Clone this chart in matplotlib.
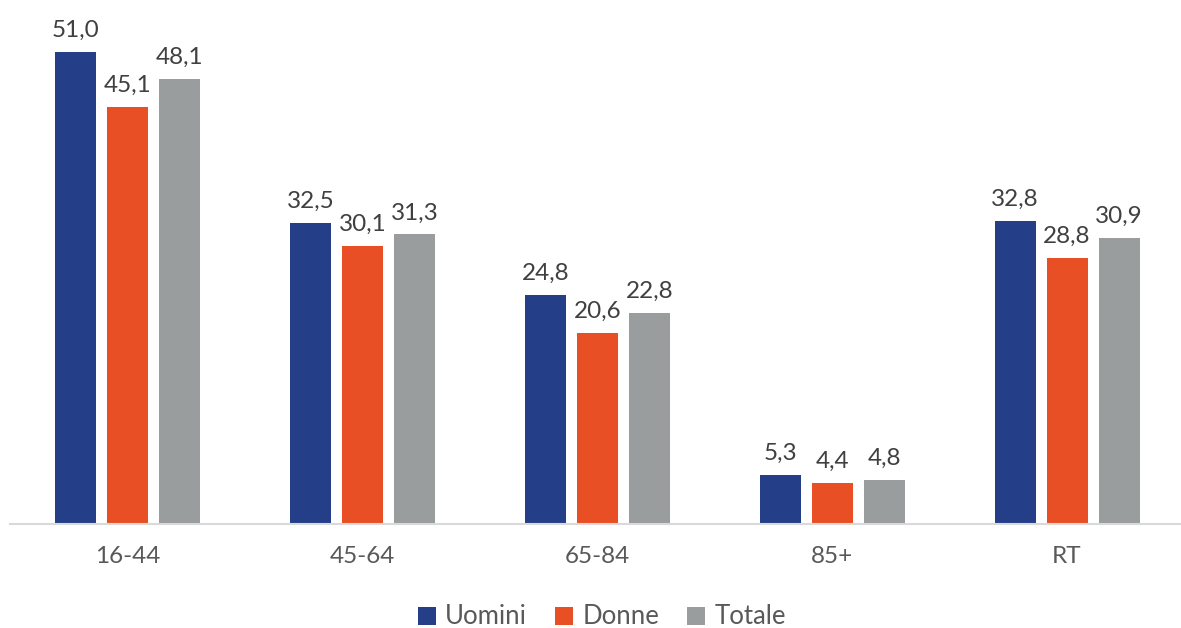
import matplotlib
matplotlib.use("Agg")
import matplotlib.pyplot as plt
import numpy as np

# Dati
categories = ["16-44", "45-64", "65-84", "85+", "RT"]
uomini = [51.0, 32.5, 24.8, 5.3, 32.8]
donne = [45.1, 30.1, 20.6, 4.4, 28.8]
totale = [48.1, 31.3, 22.8, 4.8, 30.9]
series_names = ["Uomini", "Donne", "Totale"]
colors = ["#243F87", "#E94F25", "#9A9D9E"]

plt.rcParams['font.family'] = ['Lato', 'DejaVu Sans']

fig = plt.figure(figsize=(11.81, 6.28), dpi=100)
W, H = 1181, 628
ax = fig.add_axes([10 / W, 104 / H, 1171 / W, 518 / H])

x = np.arange(len(categories))
width = 0.1745
step = 0.2214

for i, (vals, name, col) in enumerate(zip([uomini, donne, totale], series_names, colors)):
    pos = x + (i - 1) * step
    bars = ax.bar(pos, vals, width, color=col, label=name)
    for b, v in zip(bars, vals):
        ax.annotate(f"{v:.1f}".replace(".", ","),
                    (b.get_x() + b.get_width() / 2, b.get_height()),
                    xytext=(0, 8), textcoords="offset points",
                    ha="center", va="bottom", fontsize=17.5, color="#404040")

ax.set_xlim(-0.5, -0.5 + 1171 / 234.9)
ax.set_ylim(0, 56)
ax.set_xticks(x)
ax.set_xticklabels(categories, fontsize=17.5, color="#595959")
ax.tick_params(axis="x", length=0, pad=16)
ax.set_yticks([])
for s in ["top", "right", "left"]:
    ax.spines[s].set_visible(False)
ax.spines["bottom"].set_color("#D9D9D9")
ax.spines["bottom"].set_linewidth(1.5)

leg = fig.legend(loc="center", bbox_to_anchor=(602 / W, 1 - 617 / H), ncol=3,
                 frameon=False, fontsize=18.5, handlelength=0.7, handleheight=0.7,
                 handletextpad=0.35, columnspacing=1.1)
for t in leg.get_texts():
    t.set_color("#595959")

fig.savefig("out.png", dpi=100)
